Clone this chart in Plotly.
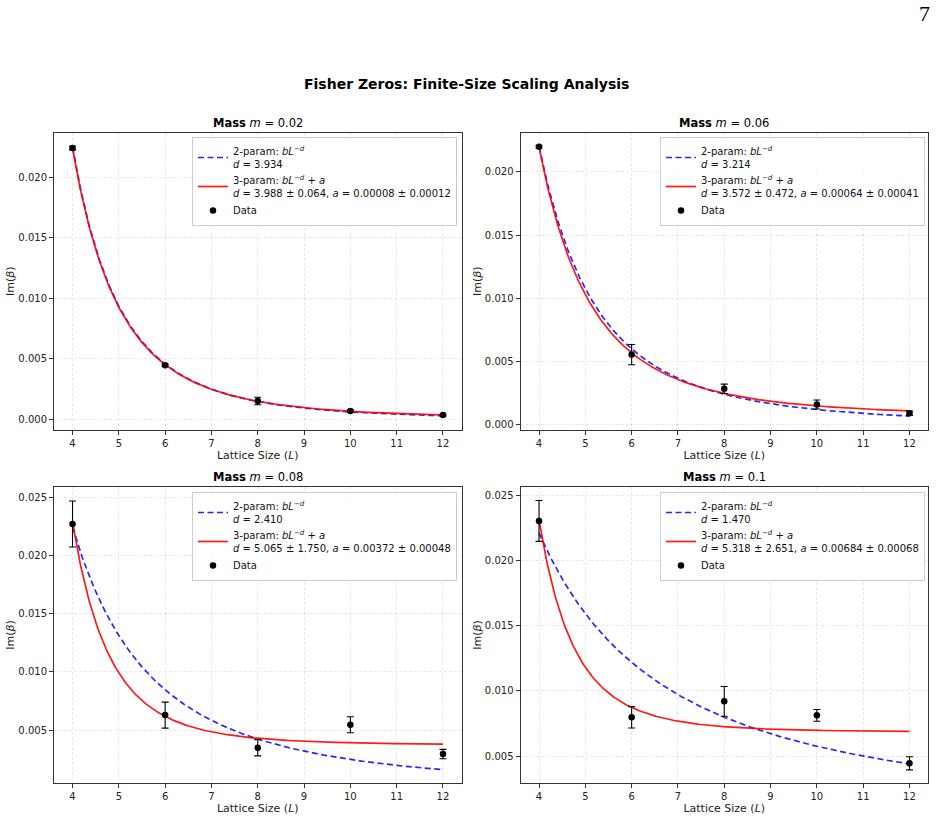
import numpy as np
import plotly.graph_objects as go

# ---------------- data ----------------
L = [4, 6, 8, 10, 12]
masses = ["0.02", "0.06", "0.08", "0.1"]

im_m002 = [0.0224, 0.00446, 0.00151, 0.00069, 0.00036]
err_m002 = [0.00015, 0.0001, 0.00031, 0.0001, 0.00008]
im_m006 = [0.0220, 0.00552, 0.00281, 0.00156, 0.00087]
err_m006 = [0.0001, 0.0008, 0.00037, 0.00036, 0.00017]
im_m008 = [0.02273, 0.00629, 0.00348, 0.00546, 0.00294]
err_m008 = [0.00198, 0.00112, 0.0007, 0.00069, 0.0004]
im_m010 = [0.02303, 0.00797, 0.00919, 0.00812, 0.00444]
err_m010 = [0.00157, 0.00082, 0.00114, 0.00045, 0.0005]

# 2-parameter fit b L^-d
d2 = [3.934, 3.214, 2.410, 1.470]
b2 = [5.25, 1.894, 0.635, 0.1696]
# 3-parameter fit b L^-d + a
d3 = [3.988, 3.572, 5.065, 5.318]
d3_err = [0.064, 0.472, 1.750, 2.651]
a3 = [0.00008, 0.00064, 0.00372, 0.00684]
a3_err = [0.00012, 0.00041, 0.00048, 0.00068]
b3 = [5.62, 3.02, 21.5, 25.87]

y_ranges = [[-0.00084, 0.02364], [-0.00042, 0.02309], [0.00045, 0.02591], [0.00293, 0.02563]]
y_ticks = [[0, 0.005, 0.01, 0.015, 0.02], [0, 0.005, 0.01, 0.015, 0.02],
           [0.005, 0.01, 0.015, 0.02, 0.025], [0.005, 0.01, 0.015, 0.02, 0.025]]
x_ticks = [4, 5, 6, 7, 8, 9, 10, 11, 12]

ims = [im_m002, im_m006, im_m008, im_m010]
errs = [err_m002, err_m006, err_m008, err_m010]

# ---------------- layout geometry ----------------
W, H = 939, 819
ml, mr, mt, mb = 54, 11, 133, 36
pw = W - ml - mr
ph = H - mt - mb

def px_x(x):
    return (x - ml) / pw

def px_y(y):
    return (H - mb - y) / ph

xdom = [[0, px_x(461.5)], [px_x(520.5), 1.0]]
ydom = [[px_y(429.5), 1.0], [0.0, px_y(487)]]

FONT = "DejaVu Sans"
fig = go.Figure()

Lfine = np.linspace(4, 12, 300)
legend_names = ["legend", "legend2", "legend3", "legend4"]
legend_pos = [(px_x(457), px_y(137)), (px_x(925), px_y(137)),
              (px_x(457), px_y(492)), (px_x(925), px_y(492))]

for i in range(4):
    r, c = divmod(i, 2)
    ax = "" if i == 0 else str(i + 1)
    xa, ya = "x" + ax, "y" + ax
    leg = legend_names[i]

    y2 = b2[i] * Lfine ** (-d2[i])
    y3 = b3[i] * Lfine ** (-d3[i]) + a3[i]

    fig.add_trace(go.Scatter(
        x=Lfine, y=y2, mode="lines", xaxis=xa, yaxis=ya, legend=leg,
        line=dict(color="rgba(0,0,255,0.85)", width=1.7, dash="6px,3.5px"),
        name="2-param: <i>bL</i><sup>−<i>d</i></sup><br><i>d</i> = %.3f" % d2[i],
    ))
    fig.add_trace(go.Scatter(
        x=Lfine, y=y3, mode="lines", xaxis=xa, yaxis=ya, legend=leg,
        line=dict(color="rgba(255,0,0,0.9)", width=1.7),
        name="3-param: <i>bL</i><sup>−<i>d</i></sup> + <i>a</i><br><i>d</i> = %.3f ± %.3f, <i>a</i> = %.5f ± %.5f"
             % (d3[i], d3_err[i], a3[i], a3_err[i]),
    ))
    fig.add_trace(go.Scatter(
        x=L, y=ims[i], mode="markers", xaxis=xa, yaxis=ya, legend=leg,
        marker=dict(color="black", size=6.5),
        error_y=dict(type="data", array=errs[i], color="black", thickness=1.1, width=3.5),
        name="Data",
    ))

    axis_common = dict(showline=True, linecolor="#333", linewidth=1, mirror=True,
                       ticks="outside", ticklen=4, tickcolor="#333",
                       showgrid=True, gridcolor="rgba(0,0,0,0.09)", griddash="3px,2px", gridwidth=1,
                       zeroline=False, automargin=False,
                       tickfont=dict(family=FONT, size=10, color="#222"))
    fig.layout["xaxis" + ax] = dict(
        domain=xdom[c], anchor=ya, range=[3.6, 12.4], tickvals=x_ticks,
        title=dict(text="Lattice Size (<i>L</i>)", font=dict(family=FONT, size=11, color="#222"), standoff=3),
        **axis_common)
    fig.layout["yaxis" + ax] = dict(
        domain=ydom[r], anchor=xa, range=y_ranges[i], tickvals=y_ticks[i], tickformat=".3f",
        title=dict(text="Im(<i>β</i>)", font=dict(family=FONT, size=11, color="#222"), standoff=1),
        **axis_common)

    lx, ly = legend_pos[i]
    fig.layout[leg] = dict(
        x=lx, y=ly, xanchor="right", yanchor="top", xref="paper", yref="paper",
        bgcolor="rgba(255,255,255,0.85)", bordercolor="#cccccc", borderwidth=1,
        font=dict(family=FONT, size=10, color="#111"), itemwidth=30,
        tracegroupgap=0, itemsizing="trace",
    )

    cx = (xdom[c][0] + xdom[c][1]) / 2
    fig.add_annotation(
        x=cx, y=ydom[r][1], xref="paper", yref="paper", xanchor="center", yanchor="bottom",
        yshift=1, showarrow=False,
        text="<b>Mass</b> <i>m</i> = %s" % masses[i],
        font=dict(family=FONT, size=11.5, color="black"),
    )

fig.add_annotation(
    x=px_x(466), y=px_y(84), xref="paper", yref="paper", xanchor="center", yanchor="middle",
    showarrow=False, text="<b>Fisher Zeros: Finite-Size Scaling Analysis</b>",
    font=dict(family=FONT, size=14, color="black"),
)
fig.add_annotation(
    x=px_x(932), y=px_y(14), xref="paper", yref="paper", xanchor="right", yanchor="middle",
    showarrow=False, text="7",
    font=dict(family="Liberation Serif", size=22, color="black"),
)

fig.update_layout(
    width=W, height=H, margin=dict(l=ml, r=mr, t=mt, b=mb),
    plot_bgcolor="white", paper_bgcolor="white",
    font=dict(family=FONT),
    showlegend=True,
)

fig.write_html("out.html")
